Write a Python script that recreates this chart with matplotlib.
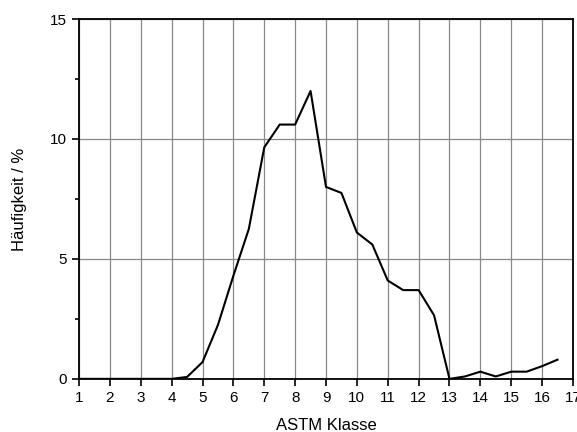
import matplotlib
matplotlib.use("Agg")
import matplotlib.pyplot as plt
from matplotlib.ticker import MultipleLocator

plt.rcParams['font.family'] = ['Liberation Sans', 'DejaVu Sans']

# ASTM grain size classes and frequency (%)
astm = [1, 1.5, 2, 2.5, 3, 3.5, 4, 4.5, 5, 5.5, 6, 6.5, 7, 7.5, 8, 8.5,
        9, 9.5, 10, 10.5, 11, 11.5, 12, 12.5, 13, 13.5, 14, 14.5, 15, 15.5, 16, 16.5]
freq = [0, 0, 0, 0, 0, 0, 0, 0.08, 0.7, 2.25, 4.3, 6.25, 9.65, 10.6, 10.6, 12.0,
        8.0, 7.75, 6.1, 5.6, 4.1, 3.7, 3.7, 2.65, 0.0, 0.1, 0.3, 0.1, 0.3, 0.3, 0.53, 0.8]

fig = plt.figure(figsize=(5.77, 4.32), dpi=100)
ax = fig.add_axes([0.137, 0.123, 0.856, 0.833])

ax.plot(astm, freq, color="black", linewidth=1.5, zorder=3)

ax.set_xlim(1, 17)
ax.set_ylim(0, 15)
ax.xaxis.set_major_locator(MultipleLocator(1))
ax.yaxis.set_major_locator(MultipleLocator(5))
ax.yaxis.set_minor_locator(MultipleLocator(2.5))
ax.grid(True, which="major", color="#888888", linewidth=0.9)
ax.tick_params(which="both", direction="out", top=False, right=False, labelsize=11, width=1.2)
ax.tick_params(which="major", length=5, pad=4)
ax.tick_params(which="minor", length=3)
for s in ax.spines.values():
    s.set_linewidth(1.3)

ax.set_xlabel("ASTM Klasse", fontsize=12, labelpad=9)
ax.set_ylabel("Häufigkeit / %", fontsize=12, labelpad=16)

fig.savefig("out.png", dpi=100)
